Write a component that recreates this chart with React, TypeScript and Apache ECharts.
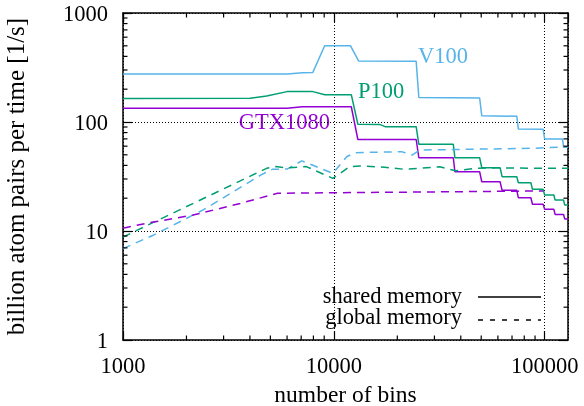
import React, { useEffect, useRef } from "react";
import * as echarts from "echarts";

const FONT = "Liberation Serif";
const COLORS = { gtx: "#9400d3", p100: "#009e73", v100: "#56b4e9" };

const xMin = 1000;
const xMax = 129000;
const yMin = 1;
const yMax = 1000;

const xMinorTicks = [2000, 3000, 4000, 5000, 6000, 7000, 8000, 9000, 20000, 30000, 40000, 50000, 60000, 70000, 80000, 90000];
const yMinorTicks = [2, 3, 4, 5, 6, 7, 8, 9, 20, 30, 40, 50, 60, 70, 80, 90, 200, 300, 400, 500, 600, 700, 800, 900];

const seriesNames = ["V100", "P100", "GTX1080"];
const legendNames = ["shared memory", "global memory"];
const xTitle = "number of bins";
const yTitle = "billion atom pairs per time [1/s]";

// shared memory
const v100Shared = [
  [1000, 275], [6000, 275], [7100, 283], [7950, 285], [9050, 500], [12000, 500], [13100, 363],
  [24576, 360], [25300, 168], [49152, 166], [50300, 114], [73728, 113], [75000, 86.3],
  [98304, 86], [100000, 69.8], [121500, 69.8], [123000, 58.6], [129000, 58.6],
];
const p100Shared = [
  [1000, 164], [4000, 165], [4800, 173], [6000, 190], [7950, 190], [9060, 178], [12100, 178],
  [13000, 95.3], [16500, 95], [17500, 90.6], [24576, 90.6], [25300, 62.4], [36864, 62.4],
  [37500, 47], [49152, 47], [50300, 38.1], [61440, 38.1], [62800, 31.5], [73728, 31.5],
  [75000, 27.7], [86016, 27.7], [87500, 24.1], [98304, 24.1], [100000, 21.4], [110592, 21.4],
  [112000, 19.2], [122880, 19.2], [124500, 17.3], [129000, 17.3],
];
const gtxShared = [
  [1000, 134], [6000, 134], [7100, 138], [12100, 138], [13000, 69.1], [24576, 69.1],
  [25300, 47], [36864, 47], [37500, 35], [49152, 35], [50300, 28.3], [61440, 28.3],
  [62800, 23.6], [73728, 23.6], [75000, 20.2], [86016, 20.2], [87500, 17.6], [98304, 17.6],
  [100000, 15.8], [110592, 15.8], [112000, 14.2], [122880, 14.2], [124500, 12.9], [129000, 12.9],
];

// global memory
const v100Global = [
  [1000, 6.9], [1400, 9.2], [2400, 15.6], [4500, 32.6], [5100, 36.8], [6000, 37], [7050, 44],
  [7900, 40.3], [9900, 33.8], [11500, 48], [12600, 52.3], [21000, 53.4], [23500, 49.8],
  [25500, 55.3], [90000, 57.4], [129000, 59.3],
];
const p100Global = [
  [1000, 8.8], [1170, 10.2], [4800, 37.6], [5300, 39], [6000, 38], [7400, 39], [9900, 30.4],
  [11900, 39], [13300, 39.5], [17400, 38.4], [21700, 36.8], [31800, 38.8], [37800, 35.7],
  [46600, 37.6], [59000, 38], [94700, 37.6], [129000, 37.6],
];
const gtxGlobal = [
  [1000, 10.6], [1300, 11.8], [2150, 14], [3600, 17.9], [5400, 22.2], [12000, 22.5],
  [76000, 23.2], [98304, 23.3],
];

const fmt = (v: number) => String(Math.round(v));

function lineSeries(name: string, data: number[][], color: string, dashed: boolean) {
  return {
    type: "line",
    name,
    data,
    showSymbol: false,
    symbol: "none",
    silent: true,
    lineStyle: { color, width: 1.5, type: dashed ? [8, 6] : "solid" },
    z: 3,
  };
}

function minorTickSeries(values: number[], horizontal: boolean) {
  return {
    type: "custom",
    xAxisIndex: 0,
    yAxisIndex: 0,
    silent: true,
    clip: false,
    z: 5,
    data: values.map((v) => (horizontal ? [v, yMin] : [xMin, v])),
    renderItem: (params: any, api: any) => {
      const style = { stroke: "#000", lineWidth: 1.2 };
      const L = 4.5;
      if (horizontal) {
        const v = api.value(0);
        const b = api.coord([v, yMin]);
        const t = api.coord([v, yMax]);
        return {
          type: "group",
          children: [
            { type: "line", shape: { x1: b[0], y1: b[1], x2: b[0], y2: b[1] - L }, style },
            { type: "line", shape: { x1: t[0], y1: t[1], x2: t[0], y2: t[1] + L }, style },
          ],
        };
      }
      const v = api.value(1);
      const l = api.coord([xMin, v]);
      const r = api.coord([xMax, v]);
      return {
        type: "group",
        children: [
          { type: "line", shape: { x1: l[0], y1: l[1], x2: l[0] + L, y2: l[1] }, style },
          { type: "line", shape: { x1: r[0], y1: r[1], x2: r[0] - L, y2: r[1] }, style },
        ],
      };
    },
  };
}

const FS = 22.5;
const txt = { fontFamily: FONT, fontSize: FS, color: "#000" };
const gfont = `${FS}px "${FONT}"`;

export default function App() {
  const ref = useRef<HTMLDivElement>(null);
  useEffect(() => {
    document.body.style.margin = "0";
    const chart = echarts.init(ref.current!, null, { renderer: "svg" });
    const axisLine = { show: true, onZero: false, lineStyle: { color: "#000", width: 1.5 } };
    const axisTick = { show: true, inside: true, length: 9, lineStyle: { color: "#000", width: 1.2 } };
    const splitLine = { show: true, lineStyle: { color: "#000", width: 1, type: [1, 2] } };
    const option: any = {
      animation: false,
      grid: { left: 123, right: 16, top: 13, bottom: 66, containLabel: false, outerBoundsMode: "none" },
      xAxis: [
        {
          type: "log", logBase: 10, min: xMin, max: xMax, position: "bottom",
          axisLine, axisTick, splitLine,
          axisLabel: { ...txt, margin: 14, showMaxLabel: false, formatter: fmt },
          name: xTitle, nameLocation: "middle", nameGap: 42, nameTextStyle: { ...txt, fontSize: 23.5 },
        },
        {
          type: "log", logBase: 10, min: xMin, max: xMax, position: "top",
          axisLine, axisTick, splitLine: { show: false }, axisLabel: { show: false },
        },
      ],
      yAxis: [
        {
          type: "log", logBase: 10, min: yMin, max: yMax, position: "left",
          axisLine, axisTick, splitLine,
          axisLabel: { ...txt, margin: 15, formatter: fmt },
          name: yTitle, nameLocation: "middle", nameGap: 95, nameTextStyle: { ...txt, fontSize: 25 },
        },
        {
          type: "log", logBase: 10, min: yMin, max: yMax, position: "right",
          axisLine, axisTick, splitLine: { show: false }, axisLabel: { show: false },
        },
      ],
      series: [
        lineSeries("V100 shared", v100Shared, COLORS.v100, false),
        lineSeries("P100 shared", p100Shared, COLORS.p100, false),
        lineSeries("GTX1080 shared", gtxShared, COLORS.gtx, false),
        lineSeries("V100 global", v100Global, COLORS.v100, true),
        lineSeries("P100 global", p100Global, COLORS.p100, true),
        lineSeries("GTX1080 global", gtxGlobal, COLORS.gtx, true),
        minorTickSeries(xMinorTicks, true),
        minorTickSeries(yMinorTicks, false),
      ],
      graphic: [
        { type: "text", x: 418, y: 67, style: { text: seriesNames[0], fill: COLORS.v100, font: gfont, textAlign: "left", textVerticalAlign: "bottom" } },
        { type: "text", x: 358, y: 102, style: { text: seriesNames[1], fill: COLORS.p100, font: gfont, textAlign: "left", textVerticalAlign: "bottom" } },
        { type: "text", x: 330, y: 133, style: { text: seriesNames[2], fill: COLORS.gtx, font: gfont, textAlign: "right", textVerticalAlign: "bottom" } },
        { type: "text", x: 462, y: 307, style: { text: legendNames[0], fill: "#000", font: gfont, textAlign: "right", textVerticalAlign: "bottom" } },
        { type: "text", x: 462, y: 328, style: { text: legendNames[1], fill: "#000", font: gfont, textAlign: "right", textVerticalAlign: "bottom" } },
        { type: "line", shape: { x1: 478, y1: 297, x2: 541, y2: 297 }, style: { stroke: "#000", lineWidth: 1.5 } },
        { type: "line", shape: { x1: 478, y1: 320, x2: 541, y2: 320 }, style: { stroke: "#000", lineWidth: 1.5, lineDash: [5, 7] } },
      ],
    };
    chart.setOption(option);
    return () => chart.dispose();
  }, []);
  return <div ref={ref} style={{ position: "fixed", left: 0, top: 0, width: 584, height: 406 }} />;
}
